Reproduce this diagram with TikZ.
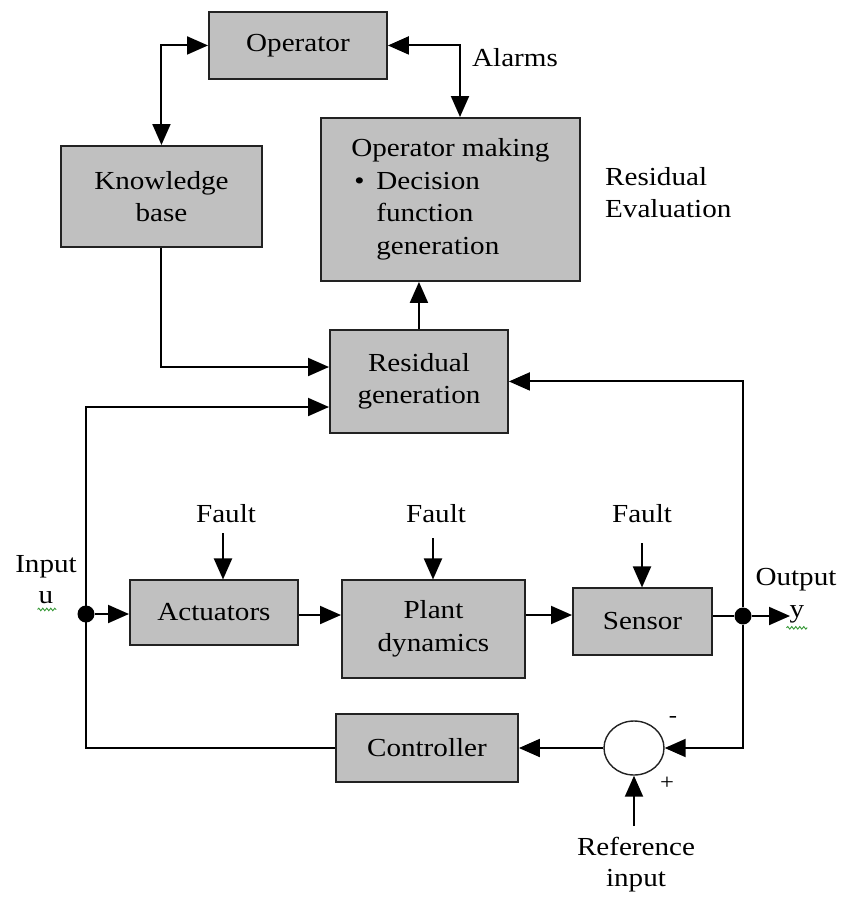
\documentclass[tikz,border=0pt]{standalone}
\usepackage{fontspec}
\setmainfont{Liberation Serif}[FakeStretch=1.12]
\usetikzlibrary{arrows.meta,shapes.geometric,decorations.pathmorphing}
\definecolor{boxgray}{HTML}{C0C0C0}
\definecolor{edge}{HTML}{222222}
\definecolor{squig}{HTML}{3A9A3A}

\begin{document}
\begin{tikzpicture}[x=1pt,y=-1pt,
  txt/.style={font=\fontsize{26}{32.5}\selectfont, inner sep=0pt, text=black},
  blk/.style={txt, draw=edge, line width=1.9pt, fill=boxgray, anchor=north west, align=center},
  wire/.style={line width=2pt, draw=black},
  arr/.style={wire, -{Triangle[length=21pt,width=18pt]}},
  darr/.style={wire, {Triangle[length=21pt,width=18pt]}-{Triangle[length=21pt,width=18pt]}},
  junction/.style={circle, fill=black, minimum size=17pt, inner sep=0pt},
  squiggle/.style={squig, line width=0.9pt, decorate,
    decoration={snake, amplitude=1.3pt, segment length=4pt}}]

\useasboundingbox (0,0) rectangle (842,897);

% ---- blocks ----
\node[blk, minimum width=178pt, minimum height=67pt] (op) at (208,11) {Operator};
\node[blk, minimum width=201pt, minimum height=101pt] (kb) at (60,145) {Knowledge\\base};
\node[blk, minimum width=259pt, minimum height=163pt, align=left] (om) at (320,117)
  {Operator making\\\makebox[25pt][l]{\hspace{3pt}\textbullet}Decision\\\hspace{25pt}function\\\hspace{25pt}generation};
\node[blk, minimum width=178pt, minimum height=103pt] (rg) at (329,329) {Residual\\generation};
\node[blk, minimum width=168pt, minimum height=65pt] (act) at (129,579) {Actuators};
\node[blk, minimum width=183pt, minimum height=98pt] (pl) at (341,579) {Plant\\dynamics};
\node[blk, minimum width=139pt, minimum height=67pt] (sen) at (572,587) {Sensor};
\node[blk, minimum width=182pt, minimum height=68pt] (ctl) at (335,713) {Controller};
\node[draw=edge, line width=1.4pt, fill=white, ellipse, minimum width=60pt, minimum height=54pt, inner sep=0pt] (sum) at (634,748) {};

% ---- labels ----
\node[txt, anchor=base] (alarms) at (515,66) {Alarms};
\node[txt, anchor=north west, align=left] (reval) at (605,167) {Residual\\Evaluation};
\node[txt, anchor=base] (f1) at (226,522) {Fault};
\node[txt, anchor=base] (f2) at (436,522) {Fault};
\node[txt, anchor=base] (f3) at (642,522) {Fault};
\node[txt, anchor=base] (inlab) at (46,572) {Input};
\node[txt, anchor=base] (ulab) at (46,603) {u};
\node[txt, anchor=base] (outlab) at (796,585) {Output};
\node[txt, anchor=base] (ylab) at (797,617) {y};
\node[txt, font=\fontsize{22}{26}\selectfont] (minus) at (673,719) {-};
\node[txt, font=\fontsize{22}{26}\selectfont] (plus) at (667,783) {+};
\node[txt, anchor=base] (reflab) at (636,855) {Reference};
\node[txt, anchor=base] (reflab2) at (636,886) {input};

% spell-check underlines
\draw[squiggle] ([xshift=-1pt,yshift=-6pt]ulab.south west) -- ([xshift=3pt,yshift=-6pt]ulab.south east);
\draw[squiggle] ([xshift=-3pt,yshift=-5pt]ylab.south west) -- ([xshift=3pt,yshift=-5pt]ylab.south east);

% ---- junctions and free ends ----
\node[junction] (ind) at (86,614) {};
\node[junction] (outd) at (743,616) {};
\coordinate (yend) at (790,616);
\coordinate (alarmx) at (460,43);
\coordinate (rgin1) at (329,367);
\coordinate (rgin2) at (329,407);
\coordinate (lane) at (0,615);
\coordinate (refin) at (634,826);

% ---- connectors ----
\draw[darr] (kb.north) |- (op.west);
\draw[darr] (op.east) -| (alarmx |- om.north);
\draw[arr] (kb.south) |- (rgin1);
\draw[arr] (rg.north) -- (rg.north |- om.south);
\draw[arr] (ctl.west) -| (rgin2 -| ind) -- (rgin2);
\draw[arr] (ind) -- (act.west |- ind);
\draw[arr] (act.east |- lane) -- (pl.west |- lane);
\draw[arr] (pl.east |- lane) -- (sen.west |- lane);
\draw[wire] (sen.east |- outd) -- (outd);
\draw[arr] (outd) -- (yend);
\draw[arr] (outd) |- (rg.east);
\draw[arr] (outd) |- (sum.east);
\draw[arr] (sum.west) -- (ctl.east |- sum.west);
\draw[arr] (refin) -- (sum.south);
\draw[arr] (f1.south) ++(-3,11) -- ++(0,46);
\draw[arr] (f2.south) ++(-3,16) -- ++(0,41);
\draw[arr] (f3.south) ++(0,21) -- ++(0,44);

\end{tikzpicture}
\end{document}
